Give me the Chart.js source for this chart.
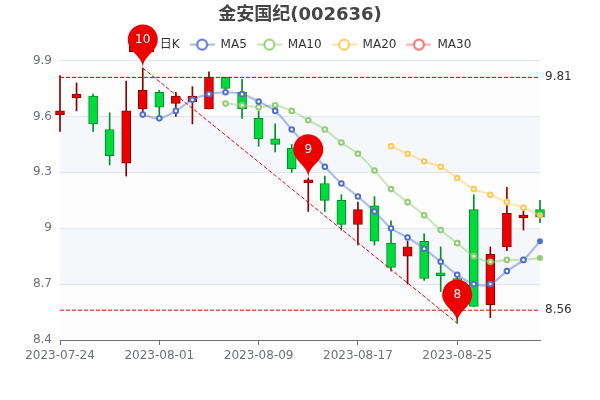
<!DOCTYPE html>
<html><head><meta charset="utf-8">
<style>html,body{margin:0;padding:0;background:#fff}canvas{display:block}</style>
<script src="https://cdn.jsdelivr.net/npm/chart.js@4"></script>
</head><body><canvas id="c" width="600" height="400"></canvas>
<script>
const dates=["2023-07-24","2023-07-25","2023-07-26","2023-07-27","2023-07-28","2023-07-31","2023-08-01","2023-08-02","2023-08-03","2023-08-04","2023-08-07","2023-08-08","2023-08-09","2023-08-10","2023-08-11","2023-08-14","2023-08-15","2023-08-16","2023-08-17","2023-08-18","2023-08-21","2023-08-22","2023-08-23","2023-08-24","2023-08-25","2023-08-28","2023-08-29","2023-08-30","2023-08-31","2023-09-01"];
const opens=[9.61,9.70,9.71,9.53,9.35,9.64,9.73,9.67,9.68,9.64,9.81,9.73,9.59,9.48,9.43,9.245,9.24,9.15,9.02,9.12,8.92,8.85,8.93,8.76,8.73,9.10,8.59,8.90,9.055,9.10];
const closes=[9.63,9.72,9.56,9.39,9.63,9.74,9.65,9.71,9.71,9.81,9.75,9.64,9.48,9.45,9.32,9.26,9.15,9.02,9.10,8.93,8.79,8.90,8.73,8.745,8.56,8.58,8.86,9.08,9.07,9.06];
const lows=[9.52,9.63,9.52,9.34,9.28,9.61,9.60,9.60,9.56,9.64,9.73,9.59,9.44,9.41,9.30,9.09,9.09,8.99,8.91,8.91,8.77,8.70,8.72,8.66,8.49,8.58,8.52,8.88,8.99,9.03];
const highs=[9.82,9.78,9.72,9.62,9.79,9.86,9.74,9.73,9.76,9.84,9.81,9.80,9.63,9.56,9.45,9.27,9.28,9.18,9.14,9.17,9.04,8.93,8.97,8.90,8.74,9.18,8.90,9.22,9.10,9.15];
const ma5=[null,null,null,null,null,9.61,9.59,9.63,9.69,9.72,9.73,9.72,9.68,9.63,9.53,9.43,9.33,9.24,9.17,9.09,9.00,8.95,8.89,8.82,8.75,8.70,8.70,8.77,8.83,8.93];
const ma10=[null,null,null,null,null,null,null,null,null,null,9.67,9.66,9.65,9.66,9.63,9.58,9.53,9.46,9.40,9.31,9.21,9.14,9.07,8.99,8.92,8.85,8.82,8.83,8.83,8.84];
const ma20=[null,null,null,null,null,null,null,null,null,null,null,null,null,null,null,null,null,null,null,null,9.44,9.40,9.36,9.33,9.27,9.21,9.18,9.14,9.11,9.07];
const ma30=[null,null,null,null,null,null,null,null,null,null,null,null,null,null,null,null,null,null,null,null,null,null,null,null,null,null,null,null,null,null];
const maxCloseValue=9.81, minCloseValue=8.56;
const trendDates=["2023-07-31","2023-08-25"], trendValues=[9.86,8.49];
const pinDates=["2023-07-31","2023-08-14","2023-08-25"], pinValues=[9.86,9.27,8.49], pinLabels=["10","9","8"];
const bands=[[9.3,9.6],[8.7,9.0]];
const paleBands=[[9.6,9.9],[9.0,9.3],[8.4,8.7]];
const rightTicks=[9.81,8.56];

const UP='#ec0000',UPB='#8A0000',DN='#00da3c',DNB='#008F28';
const isUp=opens.map((o,i)=>closes[i]>=o);
Chart.defaults.font.family='"DejaVu Sans","Noto Sans CJK SC",sans-serif';
Chart.defaults.font.size=12;

function lineIcon(color){
  const c=document.createElement('canvas');c.width=25;c.height=14;
  const x=c.getContext('2d');
  x.strokeStyle=color;x.globalAlpha=.5;x.lineWidth=2;x.beginPath();x.moveTo(0,7);x.lineTo(25,7);x.stroke();
  x.globalAlpha=1;x.beginPath();x.arc(12.5,7,5,0,Math.PI*2);x.fillStyle='#fff';x.fill();x.lineWidth=2;x.stroke();
  return c;
}
function candleIcon(){
  const c=document.createElement('canvas');c.width=25;c.height=14;
  const x=c.getContext('2d');
  x.fillStyle=UP;x.strokeStyle=UPB;x.lineWidth=1;x.fillRect(0.5,0.5,24,13);x.strokeRect(0.5,0.5,24,13);
  return c;
}
const maLine=(label,data,color)=>({type:'line',label,data,borderColor:color+'73',borderWidth:2.2,tension:.3,
  pointRadius:c=>c.dataIndex===29?2:2.3,pointBorderWidth:2,pointBorderColor:color,pointBackgroundColor:c=>c.dataIndex===29?color:'#fff',order:1,spanGaps:false,clip:false,icon:lineIcon(color)});
const refLine=(xs,ys,color)=>({type:'line',label:'',data:xs.map((x,i)=>({x,y:ys[i]})),borderColor:color,borderWidth:1,borderDash:[4,2],pointRadius:0,tension:0,order:0,skipLegend:true});

const pinPlugin={id:'pins',afterDraw(ch){
  const {ctx,scales:{x,y}}=ch;
  pinDates.forEach((d,i)=>{
    const px=x.getPixelForValue(dates.indexOf(d)),py=y.getPixelForValue(pinValues[i]);
    const w=30,h=50,r=w/2,dy=r*r/(h-r),cy=py-h+r+dy,a=Math.asin(dy/r),dx=Math.cos(a)*r,tx=Math.sin(a),ty=Math.cos(a),c1=r*.6,c2=r*.7;
    ctx.save();ctx.fillStyle=UP;ctx.beginPath();ctx.moveTo(px-dx,cy+dy);
    ctx.arc(px,cy,r,Math.PI-a,Math.PI*2+a);
    ctx.bezierCurveTo(px+dx-tx*c1,cy+dy+ty*c1,px,py-c2,px,py);
    ctx.bezierCurveTo(px,py-c2,px-dx+tx*c1,cy+dy+ty*c1,px-dx,cy+dy);
    ctx.closePath();ctx.fill();
    ctx.fillStyle='#fff';ctx.font='12px "DejaVu Sans"';ctx.textAlign='center';ctx.textBaseline='middle';
    ctx.fillText(pinLabels[i],px,cy);ctx.restore();
  });
}};
const bandPlugin={id:'bands',beforeDraw(ch){
  const {ctx,chartArea:a,scales:{y}}=ch;
  const paint=(list,col)=>list.forEach(b=>{ctx.fillStyle=col;const t=y.getPixelForValue(b[1]),e=y.getPixelForValue(b[0]);ctx.fillRect(a.left,t,a.right-a.left,e-t);});
  paint(paleBands,'#fdfdfe');paint(bands,'#f6f7fb');
}};

new Chart(document.getElementById('c'),{
  type:'bar',
  data:{labels:dates,datasets:[
    {label:'日K',data:dates.map((d,i)=>[opens[i],closes[i]]),backgroundColor:isUp.map(u=>u?UP:DN),borderColor:isUp.map(u=>u?UPB:DNB),borderWidth:1,borderSkipped:false,barThickness:9,grouped:false,order:3,clip:false,icon:candleIcon()},
    maLine('MA5',ma5,'#5470C6'),
    maLine('MA10',ma10,'#91CC75'),
    maLine('MA20',ma20,'#FAC858'),
    maLine('MA30',ma30,'#EE6666'),
    {label:'',data:dates.map((d,i)=>[lows[i],highs[i]]),backgroundColor:isUp.map(u=>u?UPB:DNB),borderWidth:0,barThickness:1,grouped:false,order:4,clip:false,skipLegend:true},
    refLine([dates[0],dates[dates.length-1]],[maxCloseValue,maxCloseValue],'#c80000'),
    refLine([dates[0],dates[dates.length-1]],[minCloseValue,minCloseValue],'#f00000'),
    refLine(trendDates,trendValues,'#f00000')
  ]},
  options:{
    responsive:false,animation:false,
    layout:{padding:{top:0,bottom:0,left:0,right:0}},
    plugins:{
      tooltip:{enabled:false},
      title:{display:true,text:'金安国纪(002636)',color:'#464646',font:{size:18,weight:'bold'},padding:{top:5,bottom:2}},
      legend:{display:true,position:'top',onClick:null,labels:{
        color:'#333',font:{size:12},usePointStyle:true,pointStyleWidth:25,boxHeight:12,padding:10,
        generateLabels(ch){return ch.data.datasets.map((d,i)=>({text:d.label,pointStyle:d.icon,fontColor:'#333',datasetIndex:i,hidden:false,lineWidth:0,strokeStyle:'transparent',fillStyle:'transparent',skip:d.skipLegend})).filter(l=>!l.skip);}
      }}
    },
    scales:{
      x:{type:'category',offset:false,
        grid:{display:true,offset:false,drawOnChartArea:false,drawTicks:true,tickLength:5,tickColor:'#6E7079'},
        border:{display:true,color:'#6E7079',width:1},
        afterBuildTicks(s){s.ticks=s.ticks.filter(t=>t.value%6===0);},
        ticks:{autoSkip:false,maxRotation:0,minRotation:0,color:'#6E7079',padding:4,font:{size:12}},
        afterFit(s){s.height=60;}
      },
      y:{type:'linear',min:8.4,max:9.9,
        grid:{color:'#E0E6F1',drawTicks:false},border:{display:false},
        ticks:{stepSize:.3,color:'#6E7079',padding:8,font:{size:12},callback:v=>String(Math.round(v*10)/10)},
        afterFit(s){s.width=60;}
      },
      y2:{type:'linear',position:'right',min:8.4,max:9.9,display:true,
        grid:{display:false,drawTicks:false},border:{display:false},
        afterBuildTicks(s){s.ticks=rightTicks.map(v=>({value:v}));},
        ticks:{color:'#333',padding:5,font:{size:12},autoSkip:false,callback:v=>v.toFixed(2)},
        afterFit(s){s.width=60;}
      }
    }
  },
  plugins:[bandPlugin,pinPlugin]
});
</script></body></html>
